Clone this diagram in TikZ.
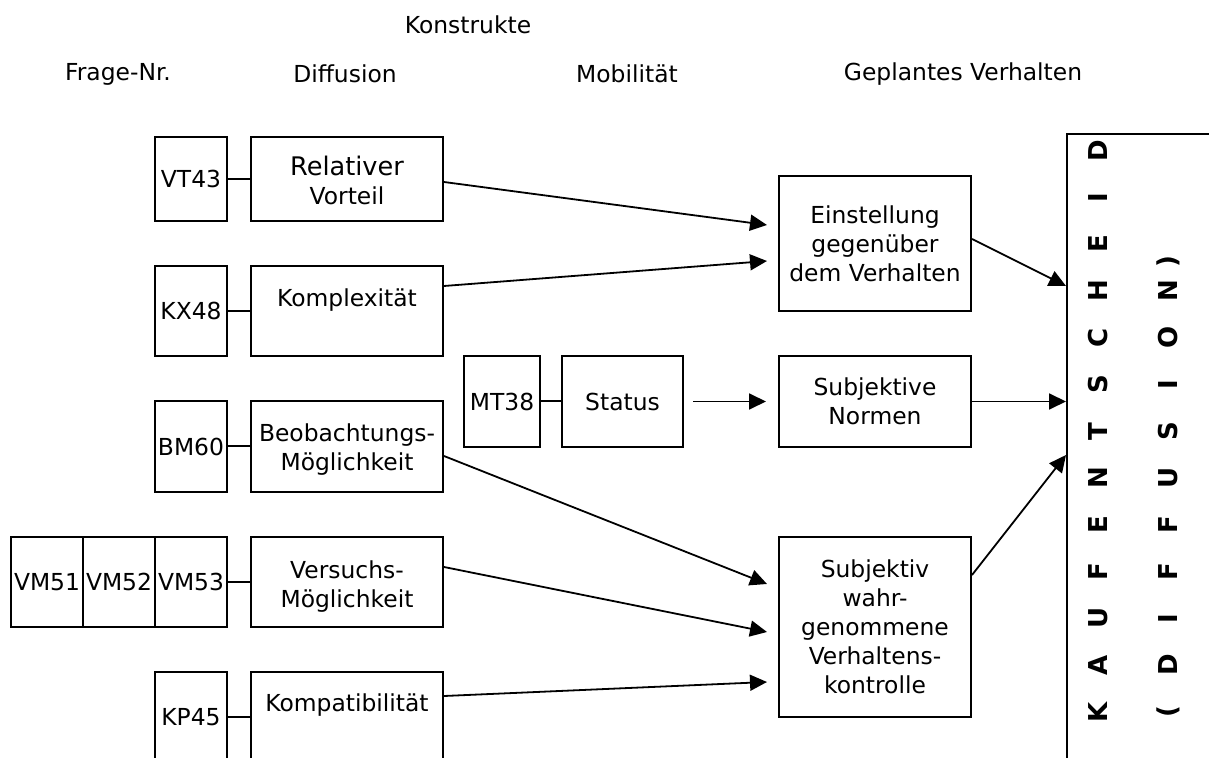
\documentclass[tikz,border=0pt]{standalone}
\usepackage{fontspec}
\setmainfont{DejaVu Sans}
\usetikzlibrary{arrows.meta,positioning}

\begin{document}
\begin{tikzpicture}[x=0.5pt,y=-0.5pt,
    font=\fontsize{11.7}{14.5}\selectfont,
    qbox/.style={draw,line width=1pt,minimum width=36pt,inner sep=0pt},
    kbox/.style={draw,line width=1pt,minimum width=96pt,inner sep=0pt,align=center},
    ktxt/.style={inner sep=0pt,align=center},
    head/.style={inner sep=0pt},
    vlet/.style={inner sep=0pt,rotate=90,font=\fontsize{13}{15}\bfseries\selectfont},
    arr/.style={-{Triangle[length=8.5pt,width=8pt]},line width=0.9pt},
    lnk/.style={line width=1pt}]
    \useasboundingbox (0,0) rectangle (1209,758);
    \clip (0,0) rectangle (1209,758);

    % headings
    \node[head] (hkon) at (468,25) {Konstrukte};
    \node[head] (hfrage) at (118,74) {Frage-Nr.};
    \node[head] (hdiff) at (345,74) {Diffusion};
    \node[head] (hmob) at (627,74) {Mobilität};
    \node[head] (hgepl) at (963,74) {Geplantes Verhalten};

    % Frage-Nr. boxes
    \node[qbox,minimum height=42pt] (vt43) at (191,179) {VT43};
    \node[qbox,minimum height=45pt] (kx48) at (191,311) {KX48};
    \node[qbox,minimum height=45.5pt] (bm60) at (191,446.5) {BM60};
    \node[qbox,minimum height=45pt] (vm51) at (47,582) {VM51};
    \node[qbox,minimum height=45pt] (vm52) at (119,582) {VM52};
    \node[qbox,minimum height=45pt] (vm53) at (191,582) {VM53};
    \node[qbox,minimum height=45pt] (kp45) at (191,717) {KP45};

    % Diffusion boxes, text at the top
    \node[kbox,minimum height=42pt] (relv) at (347,179) {};
    \node[kbox,minimum height=45pt] (kompl) at (347,311) {};
    \node[kbox,minimum height=45.5pt] (beob) at (347,446.5) {};
    \node[kbox,minimum height=45pt] (vers) at (347,582) {};
    \node[kbox,minimum height=45pt] (kompa) at (347,717) {};
    \node[ktxt,below=10pt of relv.north] (relv-t) {{\fontsize{12.8}{14.5}\selectfont Relativer}\\Vorteil};
    \node[ktxt,below=11.5pt of kompl.north] (kompl-t) {Komplexität};
    \node[ktxt,below=11.5pt of beob.north] (beob-t) {Beobachtungs-\\Möglichkeit};
    \node[ktxt,below=12pt of vers.north] (vers-t) {Versuchs-\\Möglichkeit};
    \node[ktxt,below=11pt of kompa.north] (kompa-t) {Kompatibilität};

    % Mobilitaet
    \node[qbox,minimum width=38pt,minimum height=45.5pt] (mt38) at (502,401.5) {MT38};
    \node[kbox,minimum width=60.5pt,minimum height=45.5pt] (stat) at (622.5,401.5) {Status};

    % Geplantes Verhalten
    \node[kbox,minimum height=67.5pt] (einst) at (875,243.5) {Einstellung\\gegenüber\\dem Verhalten};
    \node[kbox,minimum height=45.5pt] (snorm) at (875,401.5) {Subjektive\\Normen};
    \node[kbox,minimum height=90pt] (svk) at (875,627) {Subjektiv\\wahr-\\genommene\\Verhaltens-\\kontrolle};
    \node[draw,line width=1pt,minimum width=100pt,minimum height=333pt,inner sep=0pt] (kauf) at (1167,467) {};

    % vertical letters
    \foreach \ch [count=\i from 0] in {K,A,U,F,E,N,T,S,C,H,E,I,D}
        \node[vlet] (ka\i) at (1098,712-46.8*\i) {\ch};
    \node[vlet] (kb0) at (1168,712) {(};
    \foreach \ch [count=\i from 1] in {D,I,F,F,U,S,I,O,N}
        \node[vlet] (kb\i) at (1168,712-46.8*\i) {\ch};
    \node[vlet] (kb10) at (1168,262) {)};

    % short links
    \draw[lnk] (vt43.east) -- (vt43.east -| relv.west);
    \draw[lnk] (kx48.east) -- (kx48.east -| kompl.west);
    \draw[lnk] (bm60.east) -- (bm60.east -| beob.west);
    \draw[lnk] (vm53.east) -- (vm53.east -| vers.west);
    \draw[lnk] (kp45.east) -- (kp45.east -| kompa.west);
    \draw[lnk] (mt38.east) -- (mt38.east -| stat.west);

    % arrows
    \draw[arr] ([yshift=-1.5pt]relv.east) -- ([xshift=-5.5pt,yshift=9.25pt]einst.west);
    \draw[arr] ([yshift=12.5pt]kompl.east) -- ([xshift=-5.5pt,yshift=-8.75pt]einst.west);
    \draw[arr] ([yshift=-4.75pt]beob.east) -- ([xshift=-5.5pt,yshift=21.5pt]svk.west);
    \draw[arr] ([yshift=7.5pt]vers.east) -- ([xshift=-5.5pt,yshift=-2.5pt]svk.west);
    \draw[arr] ([yshift=10.5pt]kompa.east) -- ([xshift=-5.5pt,yshift=-27.5pt]svk.west);
    \draw[arr] ([xshift=4.5pt]stat.east) -- ([xshift=-6pt]snorm.west);
    \draw[arr] ([yshift=2.25pt]einst.east) -- ([yshift=-76.5pt]kauf.north west);
    \draw[arr] (snorm.east) -- (snorm.east -| kauf.west);
    \draw[arr] ([yshift=26pt]svk.east) -- ([yshift=-161pt]kauf.north west);
\end{tikzpicture}
\end{document}
